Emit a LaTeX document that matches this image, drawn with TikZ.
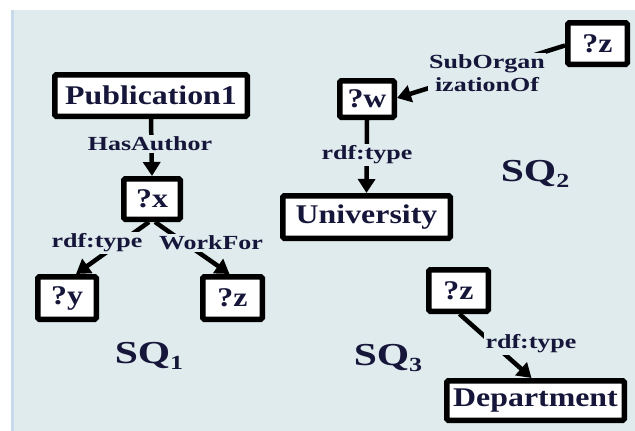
\documentclass[tikz,border=0pt]{standalone}
\usepackage{fontspec}
\newfontfamily\boxfont[FakeStretch=1.18]{Liberation Serif}
\newfontfamily\labfont[FakeStretch=1.3]{Liberation Serif}
\usetikzlibrary{arrows.meta,calc}
\definecolor{bgc}{RGB}{223,235,237}
\definecolor{edgec}{RGB}{200,218,234}
\definecolor{textc}{RGB}{22,22,58}
\tikzset{
  qbox/.style={draw=black, line width=5.5pt, fill=white, rounded corners=1.5pt,
    inner sep=0pt, text=textc, font=\boxfont\bfseries\fontsize{27}{30}\selectfont},
  qlabel/.style={fill=bgc, inner sep=1.5pt, text=textc, align=center,
    font=\labfont\bfseries\fontsize{20}{23}\selectfont},
  sqlabel/.style={inner sep=0pt, text=textc, font=\labfont\bfseries\fontsize{32}{34}\selectfont},
  qedge/.style={line width=4.5pt, -{Triangle[length=14pt,width=17pt]}}
}
\begin{document}
\begin{tikzpicture}[x=1pt,y=-1pt]
\useasboundingbox (0,0) rectangle (635,431);
\fill[white] (0,0) rectangle (635,431);
\fill[bgc] (11,10) rectangle (635,431);
\fill[edgec] (11,10) rectangle (13.5,431);

% SQ1
\node[qbox, minimum width=192.5pt, minimum height=41.5pt] (pub) at (151,95.5) {Publication1};
\node[qbox, minimum width=56.5pt, minimum height=40.5pt] (x) at (152,199) {?x};
\node[qbox, minimum width=58.5pt, minimum height=42.5pt] (y) at (67,298) {?y};
\node[qbox, minimum width=59.5pt, minimum height=42.5pt] (z1) at (232.5,298) {?z};

% SQ2
\node[qbox, minimum width=59.5pt, minimum height=41.5pt] (zt) at (597.5,43.5) {?z};
\node[qbox, minimum width=54.5pt, minimum height=36.5pt] (w) at (367,99) {?w};
\node[qbox, minimum width=167.5pt, minimum height=42.5pt] (univ) at (366.5,217) {University};

% SQ3
\node[qbox, minimum width=59.5pt, minimum height=41.5pt] (z3) at (458.5,290.5) {?z};
\node[qbox, minimum width=177.5pt, minimum height=39.5pt] (dept) at (535.5,400.5) {Department};

% edges
\draw[qedge] (pub.south) -- (x.north);
\draw[qedge] ($(x.south)+(-3,0)$) -- ($(y.north)+(9,0)$);
\draw[qedge] ($(x.south)+(3,0)$) -- ($(z1.north)+(-3,0)$);
\draw[qedge] ($(zt.west)+(0,2)$) -- ($(w.east)+(0,-1)$);
\draw[qedge] (w.south) -- (univ.north);
\draw[qedge] ($(z3.south)+(1,0)$) -- ($(dept.north)+(-4,0)$);

% edge labels
\node[qlabel] (lhas) at (150,144) {HasAuthor};
\node[qlabel] (lrdf1) at (97,243) {rdf:type};
\node[qlabel] (lwork) at (211,243) {WorkFor};
\node[qlabel] (lsub) at (487,73) {SubOrgan\\izationOf};
\node[qlabel] (lrdf2) at (367,155) {rdf:type};
\node[qlabel] (lrdf3) at (531,344) {rdf:type};

% subquery labels
\node[sqlabel] (sq1) at (149,356) {SQ\raisebox{-6pt}{\fontsize{20}{20}\selectfont 1}};
\node[sqlabel] (sq2) at (535,174) {SQ\raisebox{-6pt}{\fontsize{20}{20}\selectfont 2}};
\node[sqlabel] (sq3) at (388,358) {SQ\raisebox{-6pt}{\fontsize{20}{20}\selectfont 3}};
\end{tikzpicture}
\end{document}
